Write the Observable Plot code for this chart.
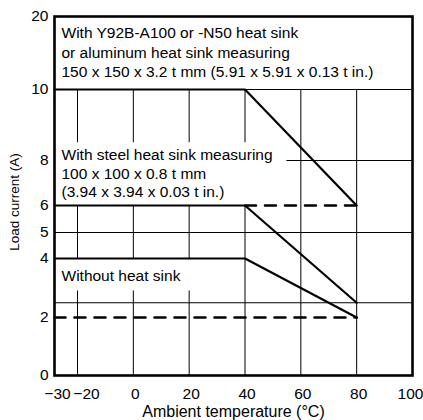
<!DOCTYPE html>
<html><head><meta charset="utf-8">
<script src="https://cdn.jsdelivr.net/npm/d3@7"></script>
<script src="https://cdn.jsdelivr.net/npm/@observablehq/plot@0.6"></script>
<style>
body{margin:0;background:#fff}
svg{font-family:"Liberation Sans",Arial,Helvetica,sans-serif}
</style>
</head><body><div id="chart"></div>
<script>
// Derating curves: load current (A) vs ambient temperature (°C)
const temps = [-30, 40, 80];
const withAluminumSink = [10, 10, 6];
const withSteelSink = [6, 6, 2.5];
const withoutSink = [4, 4, 2];

// dashed reference lines
const dashSteelTemps = [40, 80];
const dashSteelValues = [6, 6];
const dashNoneTemps = [-30, 80];
const dashNoneValues = [2, 2];

// ticks
const xTicks = [-30, -20, 0, 20, 40, 60, 80, 100];
const yTicks = [0, 2, 4, 5, 6, 8, 10, 20];

// gridlines
const hGridFull = [10, 5, 2.5];
const hGridPartialY = [8];
const hGridPartialFrom = [55];
const hGridPartialTo = [100];
const vGridX  = [-20, -20, -20, 0, 0, 0, 20, 20, 20, 40, 40, 60, 80];
const vGridY1 = [10, 6, 2.9, 10, 6, 2.9, 10, 6, 2.9, 10, 6, 10, 10];
const vGridY2 = [8.5, 4, 0, 8.5, 4, 0, 8.5, 4, 0, 8.5, 0, 0, 0];

// notes
const noteAluminum = "With Y92B-A100 or -N50 heat sink\nor aluminum heat sink measuring\n150 x 150 x 3.2 t mm (5.91 x 5.91 x 0.13 t in.)";
const noteSteel = "With steel heat sink measuring\n100 x 100 x 0.8 t mm\n(3.94 x 3.94 x 0.03 t in.)";
const noteNone = "Without heat sink";
const noteTops = [20, 8.5, 4];

const xLabel = "Ambient temperature (°C)";
const yLabel = "Load current (A)";

const series = [
  {name: "aluminum", values: withAluminumSink},
  {name: "steel", values: withSteelSink},
  {name: "none", values: withoutSink}
].flatMap(s => temps.map((t, i) => ({series: s.name, t, v: s.values[i]})));
const dashed = [
  ...dashSteelTemps.map((t, i) => ({series: "steel", t, v: dashSteelValues[i]})),
  ...dashNoneTemps.map((t, i) => ({series: "none", t, v: dashNoneValues[i]}))
];
const vGrid = vGridX.map((x, i) => ({x, y1: vGridY1[i], y2: vGridY2[i]}));
const hPartial = hGridPartialY.map((y, i) => ({y, x1: hGridPartialFrom[i], x2: hGridPartialTo[i]}));

// piecewise (non-uniform) axes as drawn in the original
const W = 423, H = 420, mL = 54, mR = 11, mT = 16, mB = 45;
const fx = d3.scaleLinear([-30, -20, 100], [mL, mL + 23, W - mR]);
const fy = d3.scaleLinear(yTicks, [H - mB, 317, 258, 232, 205, 160, 89, mT]);

const tickStyle = {tickSize: 0, fontSize: 15.5, label: null, stroke: null, tickFormat: d => d3.format("")(d)};
const noteStyle = {frameAnchor: "left", dx: 7, lineAnchor: "top", textAnchor: "start", fontSize: 15.5, fill: "#000"};

const chart = Plot.plot({
  width: W,
  height: H,
  marginLeft: mL,
  marginRight: mR,
  marginTop: mT,
  marginBottom: mB,
  style: {fontFamily: '"Liberation Sans", Arial, Helvetica, sans-serif', fontSize: "15px", color: "#000", background: "#fff"},
  x: {transform: fx, domain: [mL, W - mR], range: [mL, W - mR]},
  y: {transform: fy, domain: [H - mB, mT], range: [H - mB, mT]},
  marks: [
    // grid
    Plot.ruleY(hGridFull, {stroke: "#000", strokeWidth: 1}),
    Plot.ruleY(hPartial, {y: "y", x1: "x1", x2: "x2", stroke: "#000", strokeWidth: 1}),
    Plot.ruleX(vGrid, {x: "x", y1: "y1", y2: "y2", stroke: "#000", strokeWidth: 1}),
    // dashed
    Plot.line(dashed, {x: "t", y: "v", z: "series", stroke: "#000", strokeWidth: 2.6, strokeDasharray: "11,9"}),
    // curves
    Plot.line(series, {x: "t", y: "v", z: "series", stroke: "#000", strokeWidth: 2.2}),
    // frame
    Plot.frame({stroke: "#000", strokeWidth: 2.6}),
    // notes
    Plot.text([noteAluminum], {...noteStyle, y: () => noteTops[0], dy: 8, lineHeight: 1.26}),
    Plot.text([noteSteel], {...noteStyle, y: () => noteTops[1], dy: 4, lineHeight: 1.2}),
    Plot.text([noteNone], {...noteStyle, y: () => noteTops[2], dy: 11}),
    // axes
    Plot.axisY(yTicks, {...tickStyle, tickPadding: 6}),
    Plot.axisX([-30], {...tickStyle, tickPadding: 12, dx: 3}),
    Plot.axisX([-20], {...tickStyle, tickPadding: 12, dx: 9}),
    Plot.axisX([0, 20, 40, 60, 80], {...tickStyle, tickPadding: 12, dx: 2}),
    Plot.axisX([100], {...tickStyle, tickPadding: 12, dx: -2}),
    Plot.text([xLabel], {frameAnchor: "bottom", lineAnchor: "bottom", dy: 41, fontSize: 16, fill: "#000"}),
    Plot.text([yLabel], {frameAnchor: "left", textAnchor: "middle", dx: -40, dy: 6, rotate: -90, fontSize: 13.5, fill: "#000"})
  ]
});
document.getElementById("chart").appendChild(chart);
</script>
</body></html>
